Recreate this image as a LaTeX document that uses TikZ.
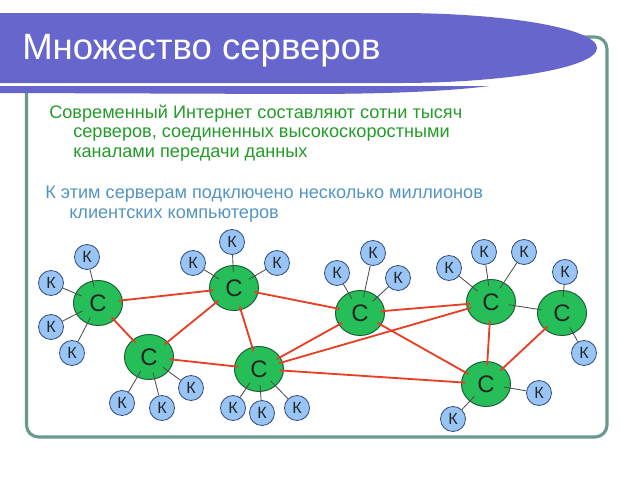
\documentclass[tikz,border=0pt]{standalone}
\usepackage{fontspec}
\setmainfont{Liberation Sans}
\usetikzlibrary{shapes.geometric}

\definecolor{titlebg}{RGB}{102,102,204}
\definecolor{framecol}{RGB}{104,152,142}
\definecolor{txtgreen}{RGB}{34,155,40}
\definecolor{txtblue}{RGB}{84,148,192}
\definecolor{srvfill}{RGB}{38,190,88}
\definecolor{srvline}{RGB}{30,95,55}
\definecolor{clfill}{RGB}{152,196,246}
\definecolor{clline}{RGB}{55,80,125}
\definecolor{linkred}{RGB}{232,62,36}

\tikzset{
	server/.style={ellipse, draw=srvline, fill=srvfill, line width=0.7pt, minimum width=1.225cm, minimum height=1.125cm, inner sep=0pt, text=black!85, font=\fontsize{17}{17}\selectfont},
	client/.style={circle, draw=clline, fill=clfill, line width=0.6pt, minimum size=0.625cm, inner sep=0pt, text=black!85, font=\fontsize{11.5}{11.5}\selectfont},
	netlink/.style={draw=linkred, line width=1.3pt, shorten <=-3pt, shorten >=-3pt},
	clink/.style={draw=black!70, line width=0.6pt, shorten <=-5pt},
	bodytext/.style={anchor=base west, inner sep=0pt, font=\fontsize{12.9}{14}\selectfont}
}

\begin{document}
\begin{tikzpicture}[x=0.025cm, y=-0.025cm]
	\useasboundingbox (0,0) rectangle (640,480);
	
	% frame and title band
	\draw[framecol, line width=2.2pt, rounded corners=0.3cm] (26.5,37) rectangle (607,437);
	\fill[white] (0,83) rectangle (560,86);
	\fill[titlebg] (0,13) -- (397,13) arc[start angle=90, end angle=-90, x radius=5cm, y radius=0.875cm] -- (0,83) -- cycle;
	\fill[titlebg] (0,86) -- (490,86) .. controls (440,92) and (380,94) .. (300,94) -- (0,93) -- cycle;
	\node[anchor=base west, inner sep=0pt, text=white, font=\fontsize{26}{28}\selectfont] (title) at (22,59) {Множество серверов};
	
	% text
	\node[bodytext, text=txtgreen] (t1) at (49,118) {Современный Интернет составляют сотни тысяч};
	\node[bodytext, text=txtgreen] (t2) at (73,137.5) {серверов, соединенных высокоскоростными};
	\node[bodytext, text=txtgreen] (t3) at (73,157) {каналами передачи данных};
	\node[bodytext, text=txtblue] (t4) at (45,198) {К этим серверам подключено несколько миллионов};
	\node[bodytext, text=txtblue] (t5) at (69,218) {клиентских компьютеров};
	
	% servers
	\node[server] (s1) at (98,303) {С};
	\node[server] (s2) at (234,288) {С};
	\node[server] (s3) at (149,357) {С};
	\node[server] (s4) at (259,369) {С};
	\node[server] (s5) at (360,313) {С};
	\node[server] (s6) at (491,302) {С};
	\node[server] (s7) at (562,313) {С};
	\node[server] (s8) at (486,384) {С};
	
	% high-speed channels
	\foreach \a/\b in {s1/s2, s1/s3, s3/s2, s3/s4, s2/s4, s2/s5, s4/s5, s4/s6, s4/s8, s5/s6, s5/s8, s6/s8, s7/s8}
	{
		\draw[netlink] (\a) -- (\b);
	}
	\draw[clink, shorten >=-3pt] (s6) -- (s7);
	
	% clients
	\foreach \s/\x/\y [count=\i] in {s1/87/257, s1/51/283, s1/51/327, s1/72/353,
		s2/193/263, s2/232/242, s2/277/263,
		s3/122/403, s3/162/408, s3/191/388,
		s4/233/408, s4/262/413, s4/297/408,
		s5/337/273, s5/373/253, s5/398/278,
		s6/449/268, s6/484/252, s6/524/252,
		s7/565/272, s7/584/353,
		s8/539/393, s8/453/419}
	{
		\node[client] (k\i) at (\x,\y) {К};
		\draw[clink] (\s) -- (k\i);
	}
\end{tikzpicture}
\end{document}
